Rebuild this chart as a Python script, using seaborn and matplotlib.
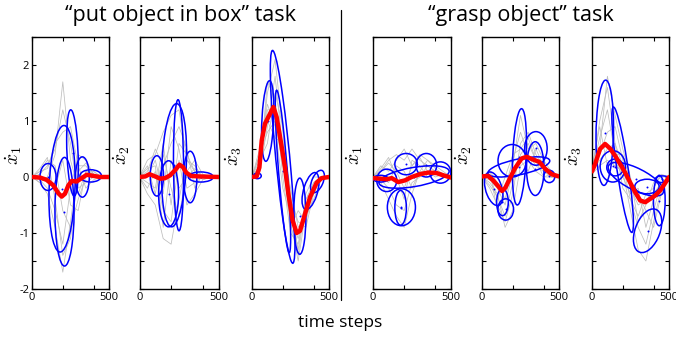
import matplotlib.pyplot as plt
import numpy as np
import pandas as pd
import seaborn as sns
from matplotlib.lines import Line2D
from matplotlib.patches import Ellipse


# time grid shared by the demonstration curves
TIME_GRID = [0, 50, 100, 150, 200, 250, 300, 350, 400, 450, 500]

# ---- "put object in box" task ----
BOX_X1_DEMOS = [
    [0, 0.05, 0.2, 0.5, 1.2, 0.6, -0.3, 0.1, 0.05, 0, 0],
    [0, -0.1, -0.3, -0.9, -1.7, -0.8, 0.2, 0.2, 0.0, 0, 0],
    [0, 0.1, 0.3, 0.2, -0.6, -0.9, -0.4, 0.0, 0.1, 0, 0],
    [0, -0.05, -0.2, -0.6, -1.2, -0.2, 0.4, 0.3, 0.05, 0, 0],
    [0, 0.1, 0.15, 0.6, 0.8, 0.9, 0.2, -0.2, -0.05, 0, 0],
    [0, 0.0, -0.1, -0.2, 0.3, -0.5, -0.6, 0.1, 0.1, 0, 0],
    [0, 0.15, 0.35, -0.4, -1.4, -1.1, 0.1, 0.25, 0.05, 0, 0],
    [0, -0.1, 0.0, 0.4, 1.7, 0.3, -0.2, -0.1, 0, 0, 0],
]
BOX_X1_MEAN_T = [0, 52, 95, 139, 171, 193, 214, 236, 258, 290, 323, 355, 398, 442, 500]
BOX_X1_MEAN_V = [0, -0.01, -0.05, -0.15, -0.29, -0.35, -0.30, -0.15, -0.07, -0.08, -0.02, 0.04, 0.02, 0, 0]
# (time, value, sd time, sd value, correlation)
BOX_X1_GAUSS = [
    (104, 0.0, 52, 0.24, 0.0),
    (195, -0.21, 85, 1.13, 0.15),
    (211, -0.62, 62, 0.97, 0.0),
    (263, 0.43, 38, 0.77, -0.3),
    (327, 0.0, 45, 0.36, 0.0),
    (381, 0.02, 70, 0.11, 0.0),
]

BOX_X2_DEMOS = [
    [0, 0.3, 0.4, 0.8, 1.1, 1.2, 0.3, 0.1, 0, 0, 0],
    [0, -0.3, -0.5, -1.1, -1.2, -0.4, 0.3, 0.2, 0, 0, 0],
    [0, 0.1, 0.5, 0.2, 0.6, 0.9, 0.5, -0.2, 0.05, 0, 0],
    [0, -0.2, 0.1, -0.6, -0.8, 0.3, -0.5, -0.3, -0.05, 0, 0],
    [0, 0.2, -0.3, 0.4, -0.2, -0.7, 0.1, 0.3, 0.05, 0, 0],
    [0, 0.0, 0.3, -0.3, 0.9, 0.5, -0.2, -0.1, 0, 0, 0],
    [0, -0.1, -0.2, 0.6, -0.5, 0.6, 0.4, 0.1, -0.05, 0, 0],
    [0, 0.15, 0.2, -0.9, 0.3, -0.2, 0.0, 0.15, 0, 0, 0],
]
BOX_X2_MEAN_T = [0, 36, 63, 99, 131, 162, 194, 226, 253, 274, 295, 325, 373, 500]
BOX_X2_MEAN_V = [0, 0.01, 0.05, 0.01, -0.03, -0.02, 0.03, 0.125, 0.22, 0.18, 0.08, 0.02, 0.01, 0]
BOX_X2_GAUSS = [
    (110, 0.02, 42, 0.36, 0.0),
    (219, 0.21, 79, 1.10, 0.2),
    (184, -0.30, 63, 0.59, 0.0),
    (247, 0.21, 32, 1.17, -0.1),
    (321, 0.0, 42, 0.46, 0.0),
    (388, 0.0, 79, 0.09, 0.0),
]

BOX_X3_DEMOS = [
    [0, 0.2, 1.5, 2.1, 0.8, -0.8, -1.5, -0.6, -0.1, 0, 0],
    [0, 0.4, 0.8, 1.0, 0.2, -0.4, -0.8, -0.9, -0.3, 0, 0],
    [0, 0.1, 1.7, 1.4, 0.0, -1.0, -1.2, -0.4, -0.2, 0, 0],
    [0, 0.5, 1.0, 0.7, 0.6, -0.2, -0.9, -0.7, -0.4, -0.05, 0],
    [0, 0.3, 0.6, 1.5, 0.9, -0.5, -1.3, -0.3, 0.0, 0, 0],
    [0, 0.2, 1.2, 1.2, 0.3, -0.9, -0.6, -0.8, -0.2, 0, 0],
    [0, 0.4, 1.3, 0.9, -0.2, -0.7, -1.1, -0.5, -0.3, 0, 0],
    [0, 0.1, 0.9, 1.8, 0.5, -0.3, -1.4, -0.4, -0.1, 0, 0],
]
BOX_X3_MEAN_T = [0, 30, 48, 63, 84, 117, 139, 160, 186, 214, 236, 264, 290, 312, 344, 377, 420, 452, 500]
BOX_X3_MEAN_V = [0, 0.01, 0.17, 0.65, 0.95, 1.13, 1.25, 1.07, 0.65, 0.17, -0.30, -0.78, -1.0, -0.96, -0.66, -0.36, -0.10, -0.02, 0]
BOX_X3_GAUSS = [
    (35, 0.02, 25, 0.05, 0.0),
    (102, 1.0, 40, 0.72, 0.3),
    (199, 0.36, 80, 1.90, -0.82),
    (201, 0.10, 50, 1.45, -0.82),
    (310, -0.70, 40, 0.68, 0.0),
    (380, -0.25, 55, 0.33, 0.5),
    (425, -0.08, 45, 0.20, 0.5),
]

# ---- "grasp object" task ----
GRASP_X1_DEMOS = [
    [0, 0.1, 0.3, 0.4, 0.3, 0.5, 0.3, 0.2, 0.1, 0.05, 0],
    [0, -0.1, -0.4, -0.7, -0.9, -0.3, 0.1, 0.1, 0.05, 0, 0],
    [0, 0.2, 0.1, 0.3, 0.5, 0.2, 0.4, 0.3, 0.2, 0.1, 0],
    [0, -0.05, -0.2, -0.5, -0.6, -0.1, 0.0, 0.2, 0.1, 0, 0],
    [0, 0.1, 0.25, 0.1, -0.2, 0.2, 0.35, 0.1, 0.0, 0.05, 0],
    [0, 0.0, -0.1, 0.2, 0.1, -0.2, 0.1, 0.3, 0.15, 0.05, 0],
    [0, 0.15, 0.35, 0.0, -0.4, 0.3, 0.2, 0.0, 0.1, 0, 0],
]
GRASP_X1_MEAN_T = [0, 45, 88, 120, 162, 205, 248, 301, 355, 408, 451, 500]
GRASP_X1_MEAN_V = [-0.02, -0.03, -0.04, -0.02, -0.09, -0.06, 0, 0.05, 0.08, 0.07, 0.03, -0.01]
GRASP_X1_GAUSS = [
    (49, -0.03, 48, 0.06, 0.0),
    (88, -0.06, 64, 0.20, 0.0),
    (212, 0.23, 72, 0.19, 0.0),
    (342, 0.21, 66, 0.21, 0.0),
    (432, 0.08, 67, 0.19, 0.0),
    (182, -0.54, 90, 0.33, 0.0),
    (177, -0.55, 37, 0.31, 0.0),
    (263, 0.0, 225, 0.20, 0.5),
]

GRASP_X2_DEMOS = [
    [0, -0.2, -0.5, -0.8, -0.3, 0.6, 0.8, 0.4, 0.2, 0.05, 0],
    [0, 0.1, -0.1, -0.4, 0.2, 1.1, 0.5, 0.6, 0.3, 0.1, 0],
    [0, -0.1, -0.3, -0.9, -0.6, 0.2, 0.3, 0.1, 0.0, 0, 0],
    [0, 0.05, -0.4, 0.0, 0.4, 0.5, 0.7, 0.3, 0.15, 0.05, 0],
    [0, -0.05, -0.2, -0.5, 0.1, 0.3, 0.1, 0.5, 0.2, 0.0, 0],
    [0, 0.1, -0.6, -0.2, 0.3, 0.8, 0.4, 0.2, 0.1, 0, 0],
    [0, -0.15, -0.35, -0.7, -0.1, 0.4, 0.6, 0.3, 0.0, 0.05, 0],
]
GRASP_X2_MEAN_T = [0, 39, 72, 104, 130, 152, 180, 213, 257, 289, 333, 372, 409, 452, 500]
GRASP_X2_MEAN_V = [0.01, 0.02, -0.06, -0.16, -0.25, -0.19, -0.03, 0.15, 0.33, 0.36, 0.31, 0.27, 0.15, 0.05, 0.01]
GRASP_X2_GAUSS = [
    (243, 0.36, 46, 0.86, 0.3),
    (196, 0.29, 92, 0.29, 0.0),
    (239, 0.18, 201, 0.18, 0.6),
    (350, 0.51, 73, 0.30, 0.0),
    (346, 0.15, 57, 0.48, 0.0),
    (76, -0.21, 60, 0.30, -0.4),
    (154, -0.58, 51, 0.19, 0.0),
    (133, -0.45, 38, 0.24, 0.0),
    (437, 0.01, 36, 0.11, 0.0),
]

GRASP_X3_DEMOS = [
    [0.1, 1.0, 1.6, 0.6, 0.2, -0.4, -0.9, -1.2, -0.6, -0.1, 0],
    [0.1, 0.4, 0.8, 0.9, 0.3, -0.2, -0.5, -0.4, -0.3, -0.1, 0],
    [0.05, 0.2, 0.3, 0.2, 0.1, -0.6, -1.3, -1.5, -0.8, -0.2, 0],
    [0.1, 0.7, 1.2, 0.4, 0.4, -0.1, -0.3, -0.6, -0.9, -0.3, 0],
    [0.1, 0.3, 0.5, 0.6, -0.2, -0.4, -0.7, -0.3, -0.2, 0.05, 0],
    [0.15, 0.9, 0.2, 0.3, 0.0, -0.3, -0.2, -0.9, -0.4, -0.2, 0],
    [0.1, 0.5, 1.8, 1.1, 0.5, 0.0, -0.8, -0.5, -0.1, 0, 0],
]
GRASP_X3_MEAN_T = [0, 20, 52, 85, 117, 150, 183, 215, 248, 280, 313, 346, 378, 411, 443, 470, 500]
GRASP_X3_MEAN_V = [0.1, 0.23, 0.5, 0.59, 0.51, 0.38, 0.23, 0.08, -0.1, -0.27, -0.42, -0.45, -0.39, -0.33, -0.24, -0.13, 0]
GRASP_X3_GAUSS = [
    (83, 0.79, 57, 0.94, 0.1),
    (199, 0.13, 70, 1.12, -0.85),
    (135, 0.19, 82, 0.28, 0.0),
    (150, 0.17, 54, 0.15, 0.0),
    (285, -0.04, 180, 0.30, -0.7),
    (357, -0.17, 79, 0.13, 0.0),
    (361, -0.96, 92, 0.39, 0.4),
    (437, -0.42, 38, 0.45, 0.0),
    (457, -0.04, 47, 0.06, 0.0),
]

PANEL_LABELS = [r"$\dot{x}_1$", r"$\dot{x}_2$", r"$\dot{x}_3$"] * 2
TITLES = ["\u201cput object in box\u201d task", "\u201cgrasp object\u201d task"]

W, H = 676, 339
PANEL_LEFT_PX = [32, 139.5, 252, 373, 482, 592]
PANEL_WIDTH_PX = [77, 79, 77, 78, 77, 77]


def draw_panel(ax, demos, mean_t, mean_v, gauss):
    demo_df = pd.DataFrame(
        [(i, t, v) for i, d in enumerate(demos) for t, v in zip(TIME_GRID, d)],
        columns=["demo", "t", "v"],
    )
    sns.lineplot(data=demo_df, x="t", y="v", units="demo", estimator=None,
                 color="#bdbdbd", linewidth=0.55, ax=ax, legend=False)
    for t, v, st, sv, r in gauss:
        cov = np.array([[st ** 2, r * st * sv], [r * st * sv, sv ** 2]])
        vals, vecs = np.linalg.eigh(cov)
        angle = np.degrees(np.arctan2(vecs[1, 1], vecs[0, 1]))
        ax.add_patch(Ellipse((t, v), 2 * np.sqrt(vals[1]), 2 * np.sqrt(vals[0]), angle=angle,
                             fill=False, edgecolor="#0000ff", linewidth=1.1, zorder=3))
    sns.scatterplot(x=[g[0] for g in gauss], y=[g[1] for g in gauss], color="#0000ff",
                    s=2, linewidth=0, ax=ax, zorder=4)
    sns.lineplot(x=mean_t, y=mean_v, color="#ff0000", linewidth=3.2, ax=ax, zorder=5)


sns.set_theme(style="ticks")
plt.rcParams["font.family"] = ["Open Sans", "DejaVu Sans"]
plt.rcParams["mathtext.fontset"] = "cm"
plt.rcParams["axes.edgecolor"] = "black"
plt.rcParams["axes.linewidth"] = 1.0
plt.rcParams["text.color"] = "black"
plt.rcParams["axes.labelcolor"] = "black"
plt.rcParams["xtick.color"] = "black"
plt.rcParams["ytick.color"] = "black"

fig = plt.figure(figsize=(W / 100, H / 100), dpi=100)

panels = [
    (BOX_X1_DEMOS, BOX_X1_MEAN_T, BOX_X1_MEAN_V, BOX_X1_GAUSS),
    (BOX_X2_DEMOS, BOX_X2_MEAN_T, BOX_X2_MEAN_V, BOX_X2_GAUSS),
    (BOX_X3_DEMOS, BOX_X3_MEAN_T, BOX_X3_MEAN_V, BOX_X3_GAUSS),
    (GRASP_X1_DEMOS, GRASP_X1_MEAN_T, GRASP_X1_MEAN_V, GRASP_X1_GAUSS),
    (GRASP_X2_DEMOS, GRASP_X2_MEAN_T, GRASP_X2_MEAN_V, GRASP_X2_GAUSS),
    (GRASP_X3_DEMOS, GRASP_X3_MEAN_T, GRASP_X3_MEAN_V, GRASP_X3_GAUSS),
]

top_px, bottom_px = 37, 289
yticks = np.arange(-2, 2.51, 0.5)
for i, (demos, mt, mv, gauss) in enumerate(panels):
    ax = fig.add_axes([PANEL_LEFT_PX[i] / W, 1 - bottom_px / H,
                       PANEL_WIDTH_PX[i] / W, (bottom_px - top_px) / H])
    draw_panel(ax, demos, mt, mv, gauss)
    ax.set_xlim(0, 500)
    ax.set_ylim(-2, 2.5)
    ax.set_xticks([0, 200, 400, 500])
    ax.set_xticklabels(["0", "", "", "500"])
    ax.set_yticks(yticks)
    if i == 0:
        ax.set_yticklabels([f"{int(v)}" if float(v).is_integer() else "" for v in yticks])
    else:
        ax.set_yticklabels([])
    ax.tick_params(direction="in", top=True, right=True, length=3, width=0.8,
                   labelsize=8, pad=2, colors="black")
    ax.set_xlabel("")
    ax.set_ylabel(PANEL_LABELS[i], fontsize=14, rotation=90)
    ax.yaxis.set_label_coords(-0.1, 0.53)
    for s in ax.spines.values():
        s.set_color("black")
        s.set_linewidth(1.0)

fig.text(180 / W, 1 - 16 / H, TITLES[0], ha="center", va="center", fontsize=15.5)
fig.text(521 / W, 1 - 16 / H, TITLES[1], ha="center", va="center", fontsize=15.5)
fig.text(340 / W, 1 - 323 / H, "time steps", ha="center", va="center", fontsize=12.5)
fig.add_artist(Line2D([341 / W, 341 / W], [1 - 10 / H, 1 - 300 / H], color="black", linewidth=0.9))

fig.savefig("out.png", dpi=100)
